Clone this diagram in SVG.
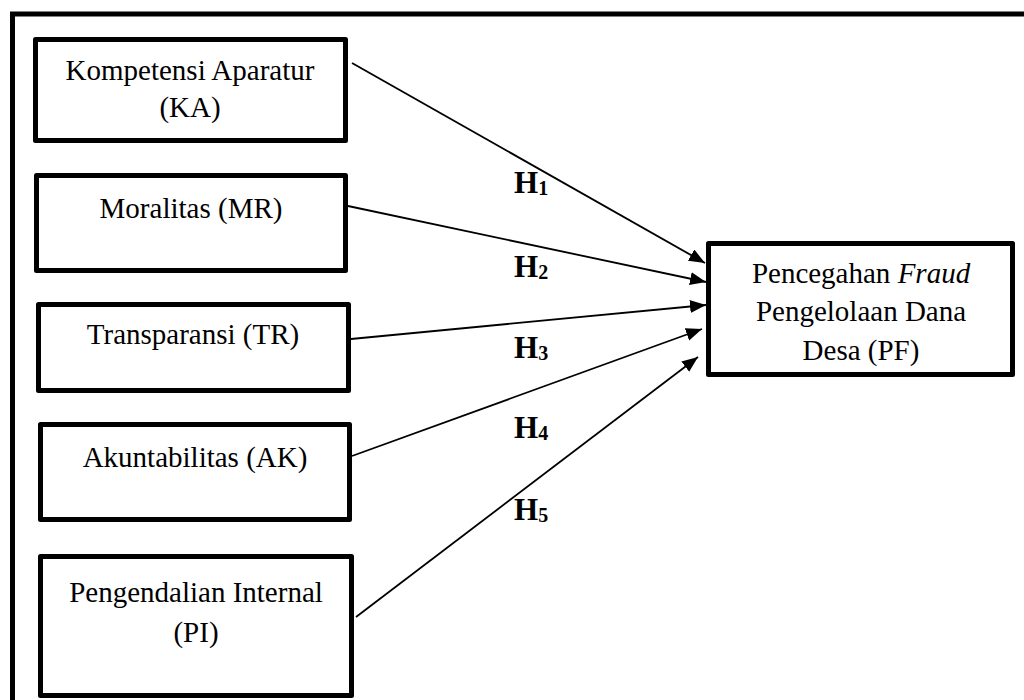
<svg xmlns="http://www.w3.org/2000/svg" width="1024" height="700" viewBox="0 0 1024 700">
<defs>
<marker id="ah" markerWidth="18" markerHeight="14" refX="16" refY="6.5" orient="auto" markerUnits="userSpaceOnUse">
<path d="M0,0 L16,6.5 L0,13 z" fill="#000"/>
</marker>
<style>
.box{fill:#fff;stroke:#000;stroke-width:5;stroke-linejoin:round}
.t{font-family:"Liberation Serif","Times New Roman",serif;font-size:29px;fill:#000;text-anchor:middle}
.h{font-family:"Liberation Serif","Times New Roman",serif;font-size:31px;font-weight:bold;fill:#000}
.sub{font-size:20px}
.c{stroke:#000;stroke-width:1.8;fill:none;marker-end:url(#ah)}
</style>
</defs>
<rect width="1024" height="700" fill="#fff"/>
<path d="M12.5,710 V14 H1030" fill="none" stroke="#000" stroke-width="5"/>
<g id="KA">
<rect class="box" x="35.5" y="39.5" width="310" height="101"/>
<text class="t" x="190" y="80">Kompetensi Aparatur</text>
<text class="t" x="190" y="117">(KA)</text>
</g>
<g id="MR">
<rect class="box" x="36.5" y="175.5" width="309" height="95"/>
<text class="t" x="191" y="218">Moralitas (MR)</text>
</g>
<g id="TR">
<rect class="box" x="38.5" y="304.5" width="310" height="86"/>
<text class="t" x="193" y="344">Transparansi (TR)</text>
</g>
<g id="AK">
<rect class="box" x="40.5" y="424.5" width="309" height="95"/>
<text class="t" x="195" y="467">Akuntabilitas (AK)</text>
</g>
<g id="PI">
<rect class="box" x="40.5" y="556.5" width="311" height="139"/>
<text class="t" x="196" y="602">Pengendalian Internal</text>
<text class="t" x="196" y="642">(PI)</text>
</g>
<g id="PF">
<rect class="box" x="708.5" y="243.5" width="304" height="131"/>
<text class="t" x="861" y="283">Pencegahan <tspan font-style="italic">Fraud</tspan></text>
<text class="t" x="861" y="321">Pengelolaan Dana</text>
<text class="t" x="861" y="360">Desa (PF)</text>
</g>
<g id="connectors">
<line class="c" x1="352" y1="63" x2="705" y2="263"/>
<line class="c" x1="348" y1="206" x2="706" y2="282"/>
<line class="c" x1="351" y1="339" x2="706" y2="305"/>
<line class="c" x1="352" y1="456" x2="702" y2="329"/>
<line class="c" x1="356" y1="617" x2="698" y2="357"/>
</g>
<g id="labels">
<text class="h" x="514" y="193">H<tspan class="sub" dy="2">1</tspan></text>
<text class="h" x="514" y="277">H<tspan class="sub" dy="2">2</tspan></text>
<text class="h" x="514" y="358">H<tspan class="sub" dy="2">3</tspan></text>
<text class="h" x="514" y="438">H<tspan class="sub" dy="2">4</tspan></text>
<text class="h" x="514" y="520">H<tspan class="sub" dy="2">5</tspan></text>
</g>
</svg>
